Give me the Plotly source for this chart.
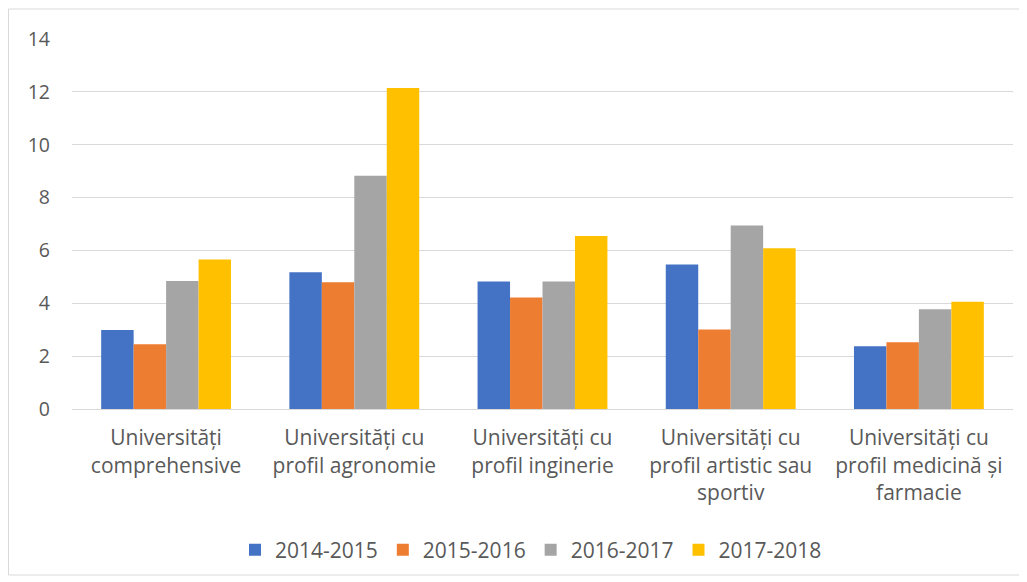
import plotly.graph_objects as go

categories = [
    "Universități<br>comprehensive",
    "Universități cu<br>profil agronomie",
    "Universități cu<br>profil inginerie",
    "Universități cu<br>profil artistic sau<br>sportiv",
    "Universități cu<br>profil medicină și<br>farmacie",
]
series_names = ["2014-2015", "2015-2016", "2016-2017", "2017-2018"]
v_2014_2015 = [2.99, 5.17, 4.82, 5.47, 2.37]
v_2015_2016 = [2.45, 4.80, 4.22, 3.01, 2.53]
v_2016_2017 = [4.84, 8.83, 4.82, 6.94, 3.77]
v_2017_2018 = [5.66, 12.15, 6.55, 6.08, 4.06]
colors = ["#4472C4", "#ED7D31", "#A5A5A5", "#FFC000"]

OFF = 8  # page body margin
W, H = 1027, 582
L, T = 72 - OFF, 39 - OFF
R = W - (1013 - OFF)
B = H - (409 - OFF)

fig = go.Figure()
for name, vals, col in zip(series_names, [v_2014_2015, v_2015_2016, v_2016_2017, v_2017_2018], colors):
    fig.add_trace(go.Bar(x=categories, y=vals, name=name, marker=dict(color=col, line=dict(width=0))))

pw = W - L - R
ph = H - T - B
def px_x(sx):
    return (sx - OFF - L) / pw
def px_y(sy):
    return (H - B - (sy - OFF)) / ph

fig.add_shape(type="rect", xref="paper", yref="paper",
              x0=px_x(8.5), x1=px_x(1020),
              y0=px_y(575), y1=px_y(9),
              line=dict(color="#d9d9d9", width=1), fillcolor="rgba(0,0,0,0)", layer="below")

fig.update_layout(
    width=W, height=H,
    margin=dict(l=L, r=R, t=T, b=B),
    paper_bgcolor="white", plot_bgcolor="white",
    barmode="group", bargap=0.31, bargroupgap=0,
    font=dict(family="Open Sans, Noto Sans, sans-serif", color="#595959", size=20),
    yaxis=dict(range=[0, 14], dtick=2, showgrid=True, gridcolor="#d9d9d9", gridwidth=1.3,
               zeroline=False, showline=False, ticks="", ticklabelstandoff=21,
               tickfont=dict(size=19.5, color="#595959")),
    xaxis=dict(showline=True, linecolor="#d9d9d9", linewidth=1.3, ticks="",
               tickfont=dict(size=21, color="#595959"), tickangle=0, ticklabelstandoff=10),
    legend=dict(orientation="h", x=px_x(531), xanchor="center", y=px_y(550), yanchor="middle",
                font=dict(size=21, color="#595959"), itemwidth=30, traceorder="normal"),
    showlegend=True,
)

fig.write_html("out.html")
